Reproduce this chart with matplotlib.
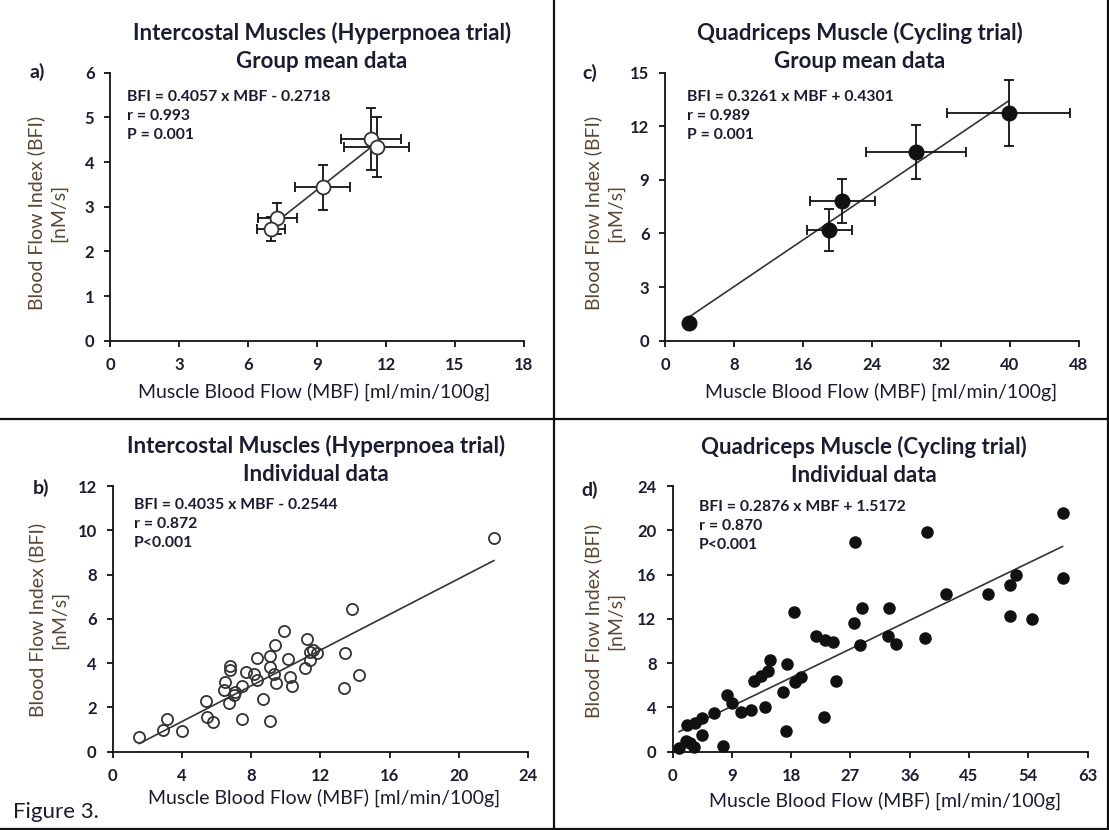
import matplotlib
matplotlib.use("Agg")
import matplotlib.pyplot as plt
import numpy as np
from matplotlib.lines import Line2D

# ---- data ----
# a) intercostal, group means (open circles, x/y SD bars)
a_mbf = [11.34, 11.60, 9.24, 7.26, 6.98]
a_bfi = [4.51, 4.34, 3.43, 2.74, 2.51]
a_mbf_err = [1.31, 1.42, 1.19, 0.85, 0.62]
a_bfi_err = [0.69, 0.67, 0.51, 0.35, 0.27]
a_fit = (0.4057, -0.2718)

# c) quadriceps, group means (filled circles)
c_mbf = [2.71, 19.03, 20.55, 29.10, 39.87]
c_bfi = [1.01, 6.19, 7.82, 10.56, 12.72]
c_mbf_err = [0.4, 2.63, 3.76, 5.84, 7.13]
c_bfi_err = [0.15, 1.16, 1.21, 1.52, 1.85]
c_fit = (0.3261, 0.4301)

# b) intercostal, individual data
b_mbf = [1.54, 3.13, 2.93, 4.00, 5.39, 5.44, 5.79, 6.76, 6.76, 6.50, 6.41,
         6.70, 7.08, 7.00, 7.47, 7.72, 7.47, 8.19, 8.34, 8.34, 8.69, 9.07,
         9.11, 9.07, 9.40, 9.30, 9.46, 9.92, 10.12, 10.23, 10.35, 11.24,
         11.14, 11.40, 11.60, 11.80, 11.39, 13.45, 13.36, 13.84, 14.25, 22.02]
b_bfi = [0.65, 1.46, 0.98, 0.95, 2.30, 1.58, 1.35, 3.86, 3.70, 3.16, 2.78,
         2.21, 2.71, 2.55, 2.96, 3.61, 1.46, 3.53, 4.21, 3.23, 2.36, 1.40,
         4.32, 3.83, 4.81, 3.53, 3.11, 5.46, 4.17, 3.38, 2.96, 5.07,
         3.76, 4.51, 4.59, 4.44, 4.14, 4.47, 2.86, 6.44, 3.46, 9.65]
b_fit = (0.4035, -0.2544)

# d) quadriceps, individual data
d_mbf = [1.0, 2.0, 2.6, 3.3, 4.5, 2.2, 3.45, 4.46, 6.23, 7.59, 8.24, 9.10,
         10.41, 11.93, 14.04, 12.43, 13.44, 14.45, 14.80, 17.32, 16.82, 17.17,
         18.58, 19.49, 18.43, 21.71, 23.12, 24.38, 24.88, 23.02, 27.56, 28.41,
         28.82, 27.70, 32.80, 32.70, 33.90, 38.65, 38.25, 41.53, 47.80, 52.10,
         51.26, 51.26, 54.60, 59.18, 59.18]
d_bfi = [0.30, 1.00, 0.80, 0.45, 1.50, 2.42, 2.57, 3.02, 3.53, 0.51, 5.14, 4.38,
         3.63, 3.78, 4.02, 6.43, 6.86, 7.25, 8.25, 7.94, 5.35, 1.90,
         6.34, 6.74, 12.63, 10.48, 10.06, 9.88, 6.43, 3.17, 11.63, 9.67,
         12.99, 18.98, 13.00, 10.49, 9.75, 19.80, 10.27, 14.20, 14.26, 16.00,
         15.10, 12.30, 12.00, 21.60, 15.65]
d_fit = (0.2876, 1.5172)

FAMILY = ["Lato", "DejaVu Sans"]
plt.rcParams["font.family"] = FAMILY
TXT = "#1c1c30"
YLAB = "#5a4636"

W, H = 1109, 830
fig = plt.figure(figsize=(W / 100, H / 100), dpi=100)
fig.patch.set_facecolor("white")


def fx(x):
    return x / W


def fy(y):
    return 1 - y / H


def make_ax(left, top, right, bottom):
    return fig.add_axes([fx(left), fy(bottom), (right - left) / W, (bottom - top) / H])


def style_ax(ax, xmax, xstep, ymax, ystep):
    ax.set_xlim(0, xmax)
    ax.set_ylim(0, ymax)
    ax.set_xticks(np.arange(0, xmax + 0.01, xstep))
    ax.set_yticks(np.arange(0, ymax + 0.01, ystep))
    for s in ("top", "right"):
        ax.spines[s].set_visible(False)
    for s in ("left", "bottom"):
        ax.spines[s].set_linewidth(1.3)
        ax.spines[s].set_color("#111111")
    ax.tick_params(direction="out", length=4, width=1.3, color="#111111",
                   labelsize=12, pad=7.5)
    for lab in ax.get_xticklabels() + ax.get_yticklabels():
        lab.set_fontweight("bold")
        lab.set_color(TXT)


def fit_line(ax, fit, xs):
    x0, x1 = min(xs), max(xs)
    xx = np.array([x0, x1])
    ax.plot(xx, fit[0] * xx + fit[1], color="#333333", lw=1.2, zorder=2)


def decorate(title, cx, cy, ylx, yly, xlx, xly, letter, lx, ly, eq, ex, ey):
    fig.text(fx(cx), fy(cy), title, ha="center", va="center", fontsize=16,
             fontweight="bold", color=TXT, linespacing=1.4)
    fig.text(fx(ylx), fy(yly), "Blood Flow Index (BFI)\n[nM/s]", rotation=90,
             ha="center", va="center", fontsize=14, color=YLAB, linespacing=1.35,
             multialignment="center")
    fig.text(fx(xlx), fy(xly), "Muscle Blood Flow (MBF) [ml/min/100g]",
             ha="center", va="center", fontsize=14, color=TXT)
    fig.text(fx(lx), fy(ly), letter, ha="center", va="center", fontsize=14,
             fontweight="bold", color=TXT)
    fig.text(fx(ex), fy(ey), eq, ha="left", va="top", fontsize=11.3,
             fontweight="bold", color=TXT, linespacing=1.45)


# panel a
ax_a = make_ax(110.4, 72.7, 523.9, 340.7)
style_ax(ax_a, 18, 3, 6, 1)
fit_line(ax_a, a_fit, a_mbf)
ax_a.errorbar(a_mbf, a_bfi, xerr=a_mbf_err, yerr=a_bfi_err, fmt="o", ms=10,
              mfc="white", mec="#333333", mew=1.3, ecolor="#111111",
              elinewidth=1.3, capsize=3.5, capthick=1.3, zorder=3)
decorate("Intercostal Muscles (Hyperpnoea trial)\nGroup mean data", 322, 47,
         47, 213, 314, 392, "a)", 37, 72,
         "BFI = 0.4057 x MBF - 0.2718\nr = 0.993\nP = 0.001", 127, 90)

# panel c
ax_c = make_ax(665.4, 72.7, 1078.9, 340.7)
style_ax(ax_c, 48, 8, 15, 3)
fit_line(ax_c, c_fit, c_mbf)
ax_c.errorbar(c_mbf, c_bfi, xerr=c_mbf_err, yerr=c_bfi_err, fmt="o", ms=10.5,
              mfc="#111111", mec="#111111", ecolor="#111111",
              elinewidth=1.3, capsize=3.5, capthick=1.3, zorder=3)
decorate("Quadriceps Muscle (Cycling trial)\nGroup mean data", 860, 47,
         604, 213, 881, 392, "c)", 590, 73,
         "BFI = 0.3261 x MBF + 0.4301\nr = 0.989\nP = 0.001", 687, 90)

# panel b
ax_b = make_ax(112.6, 486, 528.1, 751.7)
style_ax(ax_b, 24, 4, 12, 2)
fit_line(ax_b, b_fit, b_mbf)
ax_b.plot(b_mbf, b_bfi, "o", ms=8, mfc="none", mec="#333333", mew=1.3,
          zorder=3, clip_on=False)
decorate("Intercostal Muscles (Hyperpnoea trial)\nIndividual data", 316, 460,
         48.5, 619.5, 324, 798, "b)", 41, 488,
         "BFI = 0.4035 x MBF - 0.2544\nr = 0.872\nP<0.001", 134, 498)

# panel d
ax_d = make_ax(672.5, 486, 1087.7, 751.7)
style_ax(ax_d, 63, 9, 24, 4)
fit_line(ax_d, d_fit, d_mbf)
ax_d.plot(d_mbf, d_bfi, "o", ms=8, mfc="#111111", mec="#111111",
          zorder=3, clip_on=False)
decorate("Quadriceps Muscle (Cycling trial)\nIndividual data", 864, 461,
         604, 621, 885, 801, "d)", 590, 490,
         "BFI = 0.2876 x MBF + 1.5172\nr = 0.870\nP<0.001", 699, 500)

# frame lines between panels
for xs, ys in [((fx(554), fx(554)), (0, 1)),
               ((0, 1), (fy(419.3), fy(419.3))),
               ((0, 1), (fy(828.5), fy(828.5))),
               ((fx(1107.5), fx(1107.5)), (0, 1))]:
    fig.add_artist(Line2D(xs, ys, transform=fig.transFigure, color="#111111", lw=1.6))

fig.text(fx(13), fy(812), "Figure 3.", ha="left", va="center", fontsize=16,
         color=TXT)

fig.savefig("out.png", dpi=100, facecolor="white")
